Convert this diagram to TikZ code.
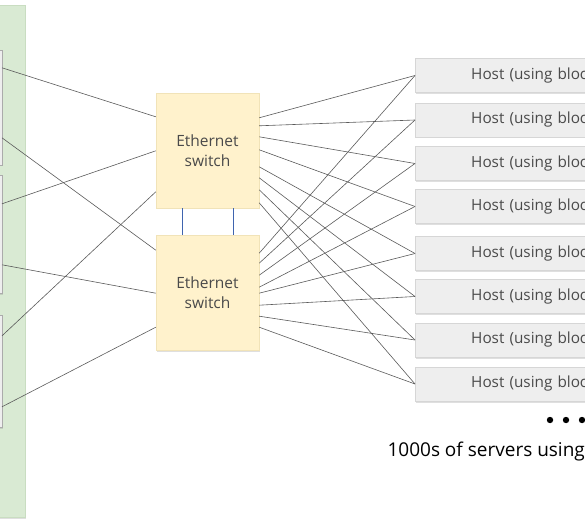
\documentclass[tikz,border=0pt]{standalone}
\usepackage{fontspec}
\setmainfont{Open Sans}
\usepackage{tikz}
\usetikzlibrary{positioning,shadows}
\definecolor{panelgreen}{HTML}{D9EAD3}
\definecolor{panelline}{HTML}{C9DDC1}
\definecolor{switchfill}{HTML}{FFF2CC}
\definecolor{switchline}{HTML}{F1E3B8}
\definecolor{hostfill}{HTML}{EEEEEE}
\definecolor{hostline}{HTML}{D6D6D6}
\definecolor{wiregray}{HTML}{5A5A5A}
\definecolor{linkblue}{HTML}{3F64AE}
\definecolor{textgray}{HTML}{4A4A4A}

\begin{document}
\begin{tikzpicture}[x=1pt,y=-1pt,
  wire/.style={draw=wiregray,line width=0.6pt},
  softshadow/.style={drop shadow={opacity=0.25,shadow xshift=1pt,shadow yshift=-1.5pt}},
  switchbox/.style={draw=switchline,fill=switchfill,softshadow,minimum width=103pt,minimum height=115pt,
    align=center,text=textgray,font=\fontsize{15.5}{20}\selectfont},
  hostbox/.style={draw=hostline,fill=hostfill,softshadow,anchor=west,minimum height=34pt,
    text width=230pt,inner xsep=56pt,align=left,text=textgray,font=\fontsize{15.3}{18}\selectfont},
  srcbox/.style={draw=hostline!80!black,fill=hostfill,softshadow,anchor=east,minimum width=60pt}]
\useasboundingbox (0,0) rectangle (585,526);
\clip (0,0) rectangle (585,526);

\node[draw=panelline,fill=panelgreen,softshadow,anchor=north east,minimum width=80pt,minimum height=512pt] (panel) at (25,5) {};
\node[srcbox,minimum height=115pt] (src1) at (2,107.5) {};
\node[srcbox,minimum height=118pt] (src2) at (2,234) {};
\node[srcbox,minimum height=112pt] (src3) at (2,371) {};

\node[switchbox] (swa) at (207.5,150.5) {Ethernet\\switch};
\node[switchbox,below=27pt of swa] (swb) {Ethernet\\switch};

\draw[linkblue,line width=0.6pt] ([xshift=-25pt]swa.south) -- ([xshift=-25pt]swb.north);
\draw[linkblue,line width=0.6pt] ([xshift=26pt]swa.south) -- ([xshift=26pt]swb.north);

\foreach \n/\y in {1/75.5,2/120,3/163.5,4/206.5,5/253.5,6/296.5,7/340,8/384}
  \node[hostbox] (host\n) at (415,\y) {Host (using bloc};

\foreach \n/\t/\b in {1/25/18,2/33/28,3/44/40,4/57/52,5/74/58,6/85/70,7/97/81,8/110/92}{
  \draw[wire] ([yshift=-\t]swa.north east) -- (host\n.west);
  \draw[wire] ([yshift=-\b]swb.north east) -- (host\n.west);
}

\foreach \s/\a/\p/\b/\q in {1/18/24/88/15,2/29/58/90/58,3/21/99/92/92}{
  \draw[wire] ([yshift=-\a]src\s.north east) -- ([yshift=-\p]swa.north west);
  \draw[wire] ([yshift=-\b]src\s.north east) -- ([yshift=-\q]swb.north west);
}

\foreach \x in {550,566,582}
  \fill (\x,420) circle (3.2pt);
\node[anchor=base west,font=\fontsize{19}{22}\selectfont] (caption) at (384,456) {1000s of servers using};
\end{tikzpicture}
\end{document}
